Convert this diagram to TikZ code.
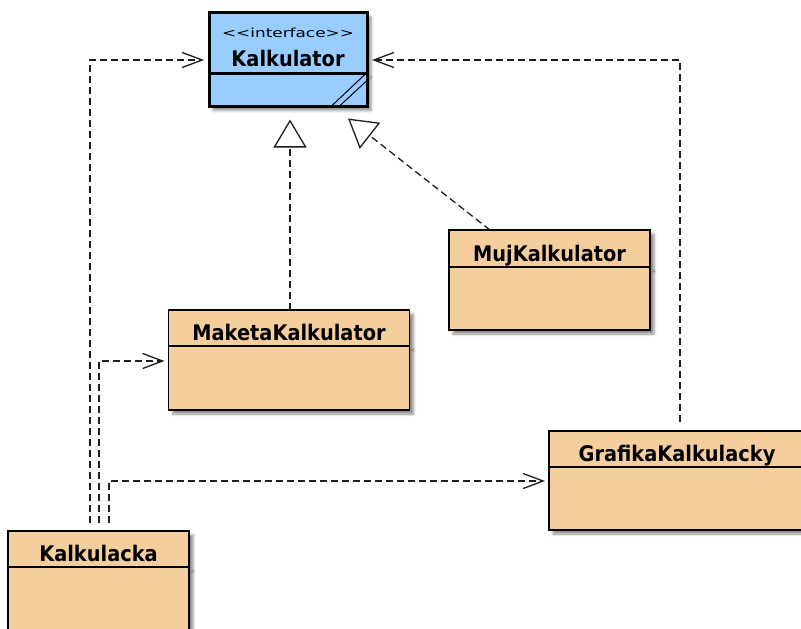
\documentclass[tikz,border=0pt]{standalone}
\usepackage{fontspec}
\usepackage{tikz}
\usetikzlibrary{arrows.meta,positioning,calc,shadows.blur}
\newfontfamily\umlfont[FakeStretch=0.9]{DejaVu Sans}
\newfontfamily\stereofont[FakeStretch=1.35]{DejaVu Sans}
\definecolor{ifacecolor}{RGB}{153,204,255}
\definecolor{classcolor}{RGB}{245,206,158}
\definecolor{linecolor}{RGB}{30,30,30}

\begin{document}
\begin{tikzpicture}[x=1pt,y=-1pt,
  klass/.style={rectangle,draw=black,fill=classcolor,line width=1.6pt,outer sep=0pt,inner sep=0pt,
                blur shadow={shadow xshift=4pt,shadow yshift=-4pt,shadow blur radius=2.5pt,shadow opacity=45}},
  head/.style={klass,font=\umlfont\fontsize{21.5}{24}\selectfont\bfseries,
               text height=25pt,text depth=0pt,minimum height=36pt},
  iface/.style={fill=ifacecolor,line width=3pt},
  stereo/.style={font=\stereofont\fontsize{12.5}{14}\selectfont,inner sep=0pt},
  dep/.style={draw=linecolor,line width=1.3pt,dash pattern=on 7pt off 4pt,
              -{Straight Barb[length=20pt,width=15pt,line width=1.3pt]}},
  real/.style={draw=linecolor,line width=1.3pt,dash pattern=on 7pt off 4pt,
               -{Triangle[length=28pt,width=33pt,line width=1.3pt,fill=white]}},
  hatch/.style={line width=1pt,black}
]
\useasboundingbox (0,0) rectangle (801,629);
\clip (0,0) rectangle (801,629);

% interface
\node[head,iface,minimum width=158pt,minimum height=61pt,text height=46pt] (kalkulatorH) at (288,43) {Kalkulator};
\node[stereo] (kalkulatorS) at (288,33) {<\kern0pt<interface>\kern0pt>};
\node[klass,iface,minimum width=158pt,minimum height=33pt,below=0pt of kalkulatorH] (kalkulator) {};
\draw[hatch] ($(kalkulator.south east)+(-36,0)$) -- ($(kalkulator.south east)+(0,-34)$);
\draw[hatch] ($(kalkulator.south east)+(-28,0)$) -- ($(kalkulator.south east)+(0,-26)$);

% classes
\node[head,minimum width=241pt] (maketaH) at (289,328) {MaketaKalkulator};
\node[klass,minimum width=241pt,minimum height=64pt,below=0pt of maketaH] (maketa) {};
\node[head,minimum width=201pt,minimum height=37pt] (mujH) at (549.5,248.5) {MujKalkulator};
\node[klass,minimum width=201pt,minimum height=63pt,below=0pt of mujH] (muj) {};
\node[head,minimum width=256pt] (grafikaH) at (677,449) {GrafikaKalkulacky};
\node[klass,minimum width=256pt,minimum height=63pt,below=0pt of grafikaH] (grafika) {};
\node[head,minimum width=181pt] (kalkulackaH) at (98.5,549) {Kalkulacka};
\node[klass,minimum width=181pt,minimum height=70pt,below=0pt of kalkulackaH] (kalkulacka) {};

% realizations
\draw[real] ($(maketaH.north)+(1,0)$) -- ($(kalkulator.south)+(2,13)$);
\draw[real] ($(mujH.north)+(-59.5,0)$) -- ($(kalkulator.south)+(60,12)$);

% dependencies
\draw[dep] ($(kalkulackaH.north)+(-8.5,-8)$) |- ($(kalkulatorH.west)+(-5,17)$);
\draw[dep] ($(kalkulackaH.north)+(0.5,-8)$) |- ($(maketa.west)+(-4,-17)$);
\draw[dep] ($(kalkulackaH.north)+(10.5,-8)$) |- ($(grafika.west)+(-4,-17.5)$);
\draw[dep] ($(grafikaH.north)+(3,-9)$) |- ($(kalkulatorH.east)+(5,17)$);
\end{tikzpicture}
\end{document}
